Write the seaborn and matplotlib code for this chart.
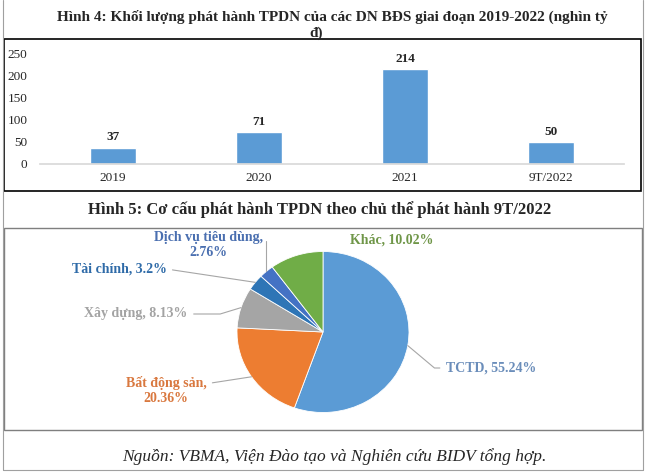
import matplotlib
matplotlib.use("Agg")
import matplotlib.pyplot as plt
from matplotlib.patches import Rectangle
from matplotlib.lines import Line2D
import numpy as np
import seaborn as sns

# Hình 4: bond issuance volume of real estate firms (thousand billion VND)
years = ["2019", "2020", "2021", "9T/2022"]
volumes = [37, 71, 214, 50]

# Hình 5: issuance structure by issuer, 9T/2022 (%)
issuers = ["TCTD", "Bất động sản", "Xây dựng", "Tài chính",
           "Dịch vụ tiêu dùng", "Khác"]
shares = [55.24, 20.36, 8.13, 3.2, 2.76, 10.02]
slice_colors = ["#5B9BD5", "#ED7D31", "#A5A5A5", "#2E75B6", "#4472C4", "#70AD47"]
label_colors = ["#6A8DBA", "#D9783F", "#A3A3A3", "#2F6BA8", "#4A6FB0", "#6F9648"]

W, H = 647, 476

sns.set_theme(style="white")
plt.rcParams["font.family"] = ["Liberation Serif", "DejaVu Serif"]

fig = plt.figure(figsize=(W / 100, H / 100), dpi=100)


def fx(x):
    return x / W


def fy(y):
    return 1 - y / H


def box(x0, y0, x1, y1, color, lw):
    fig.add_artist(Rectangle((fx(x0), fy(y1)), fx(x1) - fx(x0), fy(y0) - fy(y1),
                             transform=fig.transFigure, fill=False,
                             edgecolor=color, linewidth=lw))


# page frame lines
for xs, ys in [((3, 3), (0, 470)), ((643, 643), (0, 470)), ((3, 643), (470, 470))]:
    fig.add_artist(Line2D([fx(v) for v in xs], [fy(v) for v in ys],
                          transform=fig.transFigure, color="#a0a0a0", lw=0.8))

# ---- bar chart ----
fig.text(fx(332), fy(17), "Hình 4: Khối lượng phát hành TPDN của các DN BĐS giai đoạn 2019-2022 (nghìn tỷ",
         ha="center", va="center", fontsize=11, fontweight="bold")
fig.text(fx(316), fy(33), "đ)", ha="center", va="center", fontsize=11, fontweight="bold")
box(4, 39, 641, 191, "black", 1.2)

ax = fig.add_axes([fx(40), fy(164), fx(624) - fx(40), fy(53) - fy(164)])
sns.barplot(x=years, y=volumes, color="#5B9BD5", width=0.31, saturation=1, ax=ax)
ax.bar_label(ax.containers[0], padding=3, fontsize=9.5, fontweight="bold")
ax.set_ylim(0, 250)
ax.set_xlim(-0.5, 3.5)
ax.set_yticks(range(0, 251, 50))
ax.tick_params(axis="both", length=0, labelsize=9.5)
ax.tick_params(axis="x", pad=6)
ax.tick_params(axis="y", pad=9)
for s in ["top", "right", "left"]:
    ax.spines[s].set_visible(False)
ax.spines["bottom"].set_color("#d9d9d9")
ax.set_facecolor("none")
ax.set_xlabel("")
ax.set_ylabel("")

# ---- pie chart ----
fig.text(fx(320), fy(210), "Hình 5: Cơ cấu phát hành TPDN theo chủ thể phát hành 9T/2022",
         ha="center", va="center", fontsize=12, fontweight="bold")
box(4, 228, 642, 430, "#7f7f7f", 1.0)

cx, cy, rx, ry = 323, 332, 86, 80.5
ax2 = fig.add_axes([fx(cx - 1.25 * rx), fy(cy + 1.25 * ry),
                    fx(2.5 * rx), fy(0) - fy(2.5 * ry)])
wedges, _ = ax2.pie(shares, colors=slice_colors, startangle=90, counterclock=False,
                    wedgeprops=dict(edgecolor="white", linewidth=0.6))
ax2.set_aspect("auto")
ax2.set_xlim(-1.25, 1.25)
ax2.set_ylim(-1.25, 1.25)

# label text, centre position (px), anchor on text, connection style
label_layout = [
    ("TCTD, 55.24%", (491, 368), (0, 0.5), "angle,angleA=180,angleB=-40,rad=0"),
    ("Bất động sản,\n20.36%", (166, 391), (1, 0.75), "arc3,rad=0"),
    ("Xây dựng, 8.13%", (136, 314), (1, 0.5), "angle,angleA=0,angleB=197,rad=0"),
    ("Tài chính, 3.2%", (119, 269), (1, 0.5), "arc3,rad=0"),
    ("Dịch vụ tiêu dùng,\n2.76%", (208, 245), (1, 0.75), "angle,angleA=0,angleB=90,rad=0"),
    ("Khác, 10.02%", (392, 240), None, None),
]

for w, (txt, (px, py), relpos, conn), col in zip(wedges, label_layout, label_colors):
    mid = np.deg2rad((w.theta1 + w.theta2) / 2)
    edge = (np.cos(mid), np.sin(mid))
    if conn is None:
        fig.text(fx(px), fy(py), txt, ha="center", va="center", color=col,
                 fontsize=10, fontweight="bold")
        continue
    ax2.annotate(txt, xy=edge, xycoords="data",
                 xytext=(fx(px), fy(py)), textcoords="figure fraction",
                 ha="center", va="center", multialignment="center",
                 color=col, fontsize=10, fontweight="bold",
                 annotation_clip=False,
                 arrowprops=dict(arrowstyle="-", color="#a6a6a6", lw=0.8,
                                 shrinkA=2, shrinkB=0, relpos=relpos,
                                 connectionstyle=conn))

fig.text(fx(334), fy(457), "Nguồn: VBMA, Viện Đào tạo và Nghiên cứu BIDV tổng hợp.",
         ha="center", va="center", fontsize=12.5, fontstyle="italic")

fig.savefig("out.png", dpi=100)
